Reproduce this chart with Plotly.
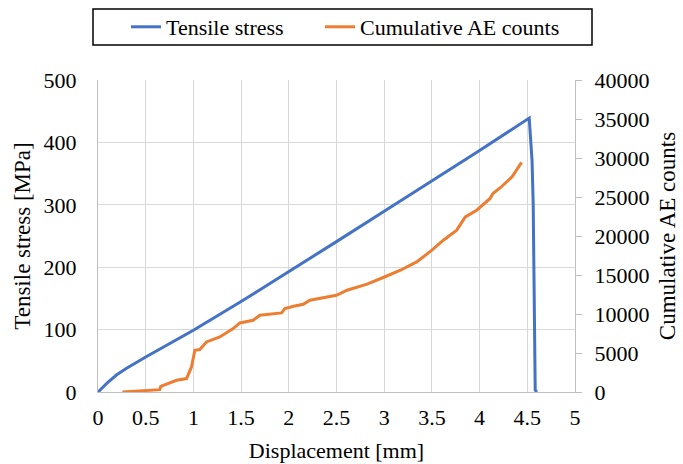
import plotly.graph_objects as go

# Tensile stress series
disp_stress = [0, 0.1, 0.2, 0.3, 0.5, 0.75, 1.0, 1.5, 2.0, 2.5, 3.0, 3.5, 4.0, 4.52,
               4.545, 4.55, 4.562, 4.573, 4.583, 4.6]
stress = [0, 15, 28, 38, 56, 78, 99, 145, 192.5, 241, 289.5, 338, 387, 439,
          372, 370, 300, 120, 3, 0]

# Cumulative AE counts series
disp_ae = [0.256, 0.647, 0.658, 0.752, 0.823, 0.928, 0.955, 0.980, 1.015, 1.067, 1.137,
           1.277, 1.417, 1.487, 1.626, 1.696, 1.924, 1.959, 2.05, 2.151, 2.221, 2.50,
           2.61, 2.82, 2.99, 3.17, 3.34, 3.50, 3.62, 3.76, 3.85, 3.97, 4.11, 4.14,
           4.22, 4.34, 4.44]
ae_counts = [0, 300, 730, 1150, 1500, 1720, 2570, 3210, 5350, 5440, 6420,
             7060, 8130, 8850, 9200, 9840, 10140, 10700, 11000, 11250, 11760, 12400,
             13050, 13820, 14680, 15610, 16680, 18180, 19460, 20750, 22450, 23310, 24810, 25450,
             26220, 27580, 29430]

x_ticks = [0, 0.5, 1, 1.5, 2, 2.5, 3, 3.5, 4, 4.5, 5]

FONT = "Liberation Serif, Times New Roman, serif"
fig = go.Figure()
fig.add_trace(go.Scatter(x=disp_stress, y=stress, mode="lines", name="Tensile stress",
                         legend="legend", line=dict(color="#4472C4", width=3)))
fig.add_trace(go.Scatter(x=disp_ae, y=ae_counts, mode="lines", name="Cumulative AE counts",
                         yaxis="y2", legend="legend2", line=dict(color="#ED7D31", width=3)))

W, H = 683, 464
L, R, T, B = 98, 575, 80, 392
pw, ph = R - L, B - T

def px(x):
    return (x - L) / pw

def py(y):
    return (B - y) / ph

leg_common = dict(orientation="h", yanchor="middle", xanchor="left",
                  bgcolor="rgba(0,0,0,0)", borderwidth=0,
                  font=dict(family=FONT, size=22, color="black"))

fig.update_layout(
    width=W, height=H,
    margin=dict(l=L, r=W - R, t=T, b=H - B, autoexpand=False),
    paper_bgcolor="white", plot_bgcolor="white",
    font=dict(family=FONT, size=22, color="black"),
    showlegend=True,
    legend=dict(x=px(126), y=py(27), **leg_common),
    legend2=dict(x=px(320), y=py(27), **leg_common),
    xaxis=dict(range=[0, 5], tickvals=x_ticks, ticktext=[str(v) for v in x_ticks],
               showgrid=True, gridcolor="#d9d9d9", gridwidth=1,
               showline=True, linecolor="#bfbfbf", linewidth=1, ticks="",
               zeroline=False, tickfont=dict(family=FONT, size=22),
               ticklabelstandoff=6, automargin=False,
               title=dict(text="Displacement [mm]", standoff=13,
                          font=dict(family=FONT, size=22))),
    yaxis=dict(range=[0, 500], dtick=100, showgrid=True, gridcolor="#d9d9d9",
               showline=True, linecolor="#bfbfbf", zeroline=False, ticks="",
               tickfont=dict(family=FONT, size=22), ticklabelstandoff=16,
               automargin=False,
               title=dict(text="Tensile stress [MPa]", standoff=6,
                          font=dict(family=FONT, size=23))),
    yaxis2=dict(range=[0, 40000], dtick=5000, overlaying="y", side="right",
                showgrid=False, showline=True, linecolor="#bfbfbf", zeroline=False,
                ticks="outside", ticklen=6, tickcolor="#bfbfbf",
                tickformat="d", tickfont=dict(family=FONT, size=22),
                ticklabelstandoff=8, automargin=False,
                title=dict(text="Cumulative AE counts", standoff=10,
                           font=dict(family=FONT, size=23))),
)

fig.add_shape(type="rect", xref="paper", yref="paper",
              x0=px(93), x1=px(592), y0=py(45), y1=py(9),
              line=dict(color="black", width=1.5), fillcolor="rgba(0,0,0,0)")

fig.write_html("out.html")
